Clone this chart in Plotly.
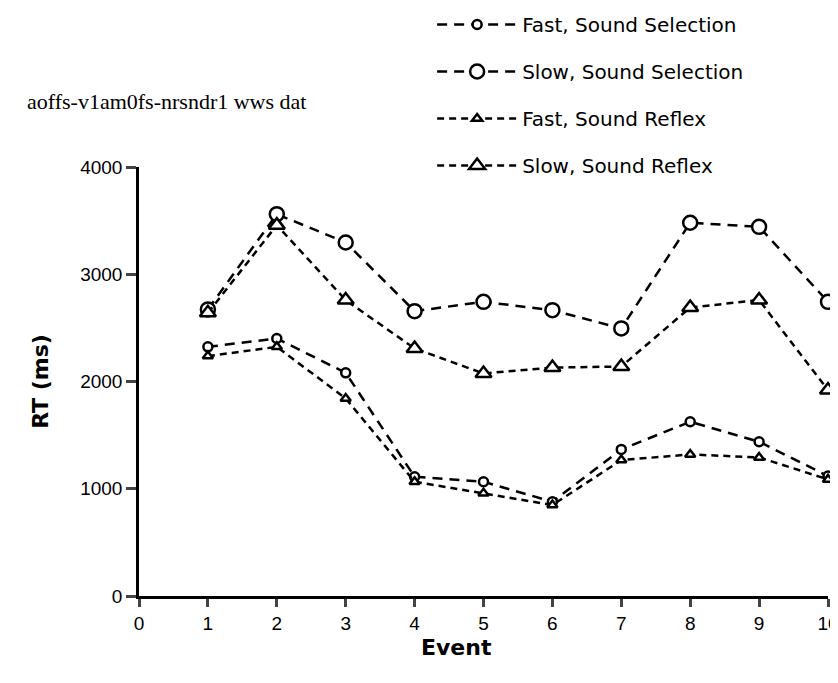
import plotly.graph_objects as go

events = [1, 2, 3, 4, 5, 6, 7, 8, 9, 10]
fast_selection = [2323, 2401, 2081, 1112, 1065, 879, 1367, 1625, 1438, 1118]
slow_selection = [2672, 3560, 3296, 2656, 2743, 2665, 2495, 3480, 3442, 2743]
fast_reflex = [2237, 2323, 1842, 1065, 957, 848, 1267, 1320, 1292, 1087]
slow_reflex = [2640, 3458, 2759, 2308, 2075, 2130, 2140, 2690, 2759, 1920]

x_ticks = [0, 1, 2, 3, 4, 5, 6, 7, 8, 9, 10]
y_ticks = [0, 1000, 2000, 3000, 4000]

series = [
    ("Fast, Sound Selection", fast_selection, "circle", 9, "10px,7px"),
    ("Slow, Sound Selection", slow_selection, "circle", 14, "10px,7px"),
    ("Fast, Sound Reflex", fast_reflex, "triangle-up", 9, "7px,5px"),
    ("Slow, Sound Reflex", slow_reflex, "triangle-up", 14, "7px,5px"),
]

fig = go.Figure()
for i, (name, vals, sym, size, dash) in enumerate(series):
    fig.add_trace(go.Scatter(
        x=events, y=vals, name=name, mode="lines+markers",
        line=dict(color="black", width=2.5, dash=dash),
        marker=dict(symbol=sym, size=size, color="white",
                    line=dict(color="black", width=2.5)),
        cliponaxis=False, legendgroup=str(i),
    ))

PW = 688.7
PH = 429.0

fig.update_layout(
    width=830, height=675,
    margin=dict(l=131, r=10.3, t=159, b=87, autoexpand=False),
    paper_bgcolor="white", plot_bgcolor="white",
    font=dict(family="Liberation Sans, Arial, sans-serif", color="black", size=17),
    showlegend=True,
    legend=dict(x=(432 - 139) / PW, y=591 / PH, xanchor="left", yanchor="top",
                font=dict(family="DejaVu Sans, sans-serif", size=20),
                tracegroupgap=18, itemwidth=80,
                bgcolor="rgba(0,0,0,0)"),
    xaxis=dict(range=[0, 10], tickvals=x_ticks, ticks="outside", ticklen=8,
               tickwidth=2.5, showline=True, linewidth=2.5, linecolor="black",
               showgrid=False, zeroline=False, tickfont=dict(size=19),
               ticklabeloverflow="allow"),
    yaxis=dict(range=[0, 4000], tickvals=y_ticks, ticks="outside", ticklen=10,
               tickwidth=2.5, showline=True, linewidth=2.5, linecolor="black",
               showgrid=False, zeroline=False, tickfont=dict(size=19),
               title=dict(text="<b>RT (ms)</b>",
                          font=dict(family="DejaVu Sans, sans-serif", size=22),
                          standoff=26)),
    annotations=[
        dict(text="aoffs-v1am0fs-nrsndr1 wws dat", xref="paper", yref="paper",
             x=-(139 - 25) / PW, y=(596 - 101) / PH,
             xanchor="left", yanchor="middle", showarrow=False,
             font=dict(family="Liberation Serif, Times New Roman, serif", size=22)),
        dict(text="<b>Event</b>", xref="paper", yref="paper",
             x=(456 - 139) / PW, y=-(647 - 596) / PH,
             xanchor="center", yanchor="middle", showarrow=False,
             font=dict(family="DejaVu Sans, sans-serif", size=22)),
    ],
)

fig.write_html("out.html")
